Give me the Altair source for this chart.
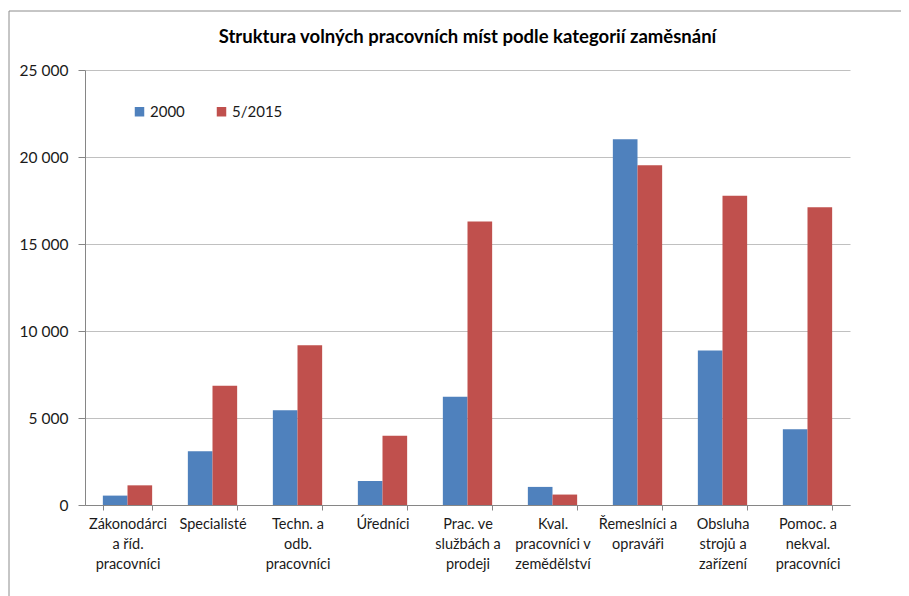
import altair as alt
import pandas as pd

categories = [
    "Zákonodárci|a říd.|pracovníci",
    "Specialisté",
    "Techn. a|odb.|pracovníci",
    "Úředníci",
    "Prac. ve|službách a|prodeji",
    "Kval.|pracovníci v|zemědělství",
    "Řemeslníci a|opraváři",
    "Obsluha|strojů a|zařízení",
    "Pomoc. a|nekval.|pracovníci",
]
series = ["2000", "5/2015"]
values_2000 = [540, 3090, 5450, 1380, 6220, 1040, 21020, 8880, 4350]
values_2015 = [1130, 6860, 9180, 3980, 16300, 600, 19520, 17780, 17110]
y_ticks = [0, 5000, 10000, 15000, 20000, 25000]
colors = ["#4F81BD", "#C0504D"]

rows = []
for c, a, b in zip(categories, values_2000, values_2015):
    rows.append({"kat": c, "rok": series[0], "hodnota": a})
    rows.append({"kat": c, "rok": series[1], "hodnota": b})
df = pd.DataFrame(rows)

FONT = "Lato"
AX = 14.5

bars = alt.Chart(df).mark_bar().encode(
    x=alt.X(
        "kat:N",
        sort=categories,
        title=None,
        scale=alt.Scale(paddingInner=0.42, paddingOuter=0.21),
        axis=alt.Axis(
            labelExpr="split(datum.label, '|')",
            labelAngle=0,
            labelLineHeight=20,
            labelPadding=7,
            tickBand="extent",
            tickSize=5,
            tickColor="#868686",
            domainColor="#868686",
            grid=False,
            labelFont=FONT,
            labelFontSize=AX,
            labelColor="#1a1a1a",
        ),
    ),
    xOffset=alt.XOffset("rok:N", sort=series, scale=alt.Scale(paddingInner=0, paddingOuter=0)),
    y=alt.Y(
        "hodnota:Q",
        title=None,
        scale=alt.Scale(domain=[0, 25000], nice=False),
        axis=alt.Axis(
            values=y_ticks,
            labelExpr="replace(format(datum.value, ','), ',', ' ')",
            tickSize=7,
            labelPadding=10,
            tickColor="#868686",
            domainColor="#868686",
            gridColor="#C0C0C0",
            gridWidth=1,
            labelFont=FONT,
            labelFontSize=15.5,
            labelColor="#1a1a1a",
        ),
    ),
    color=alt.Color(
        "rok:N",
        sort=series,
        scale=alt.Scale(domain=series, range=colors),
        legend=alt.Legend(
            title=None,
            orient="none",
            legendX=47,
            legendY=34,
            direction="horizontal",
            symbolType="square",
            symbolSize=90,
            symbolStrokeWidth=0,
            labelOffset=3,
            columnPadding=29,
            padding=0,
            labelFont=FONT,
            labelFontSize=15,
            labelColor="#1a1a1a",
        ),
    ),
)

frame = alt.Chart(alt.Data(values=[{}])).mark_rect(
    filled=False, stroke="#8c8c8c", strokeWidth=1
).encode(
    x=alt.value(-76), x2=alt.value(2000), y=alt.value(-59), y2=alt.value(2000)
)

chart = alt.layer(frame, bars).properties(
    width=765,
    height=435,
    padding={"left": 77, "top": 62, "right": 51, "bottom": 91},
    autosize=alt.AutoSizeParams(type="none"),
    title=alt.Title(
        "Struktura volných pracovních míst podle kategorií zaměsnání",
        anchor="middle",
        frame="group",
        font=FONT,
        fontSize=18.5,
        fontWeight="bold",
        color="#000000",
        offset=-36,
    ),
).configure_view(stroke=None)

chart.save("out.html", embed_options={"renderer": "svg", "actions": False})
